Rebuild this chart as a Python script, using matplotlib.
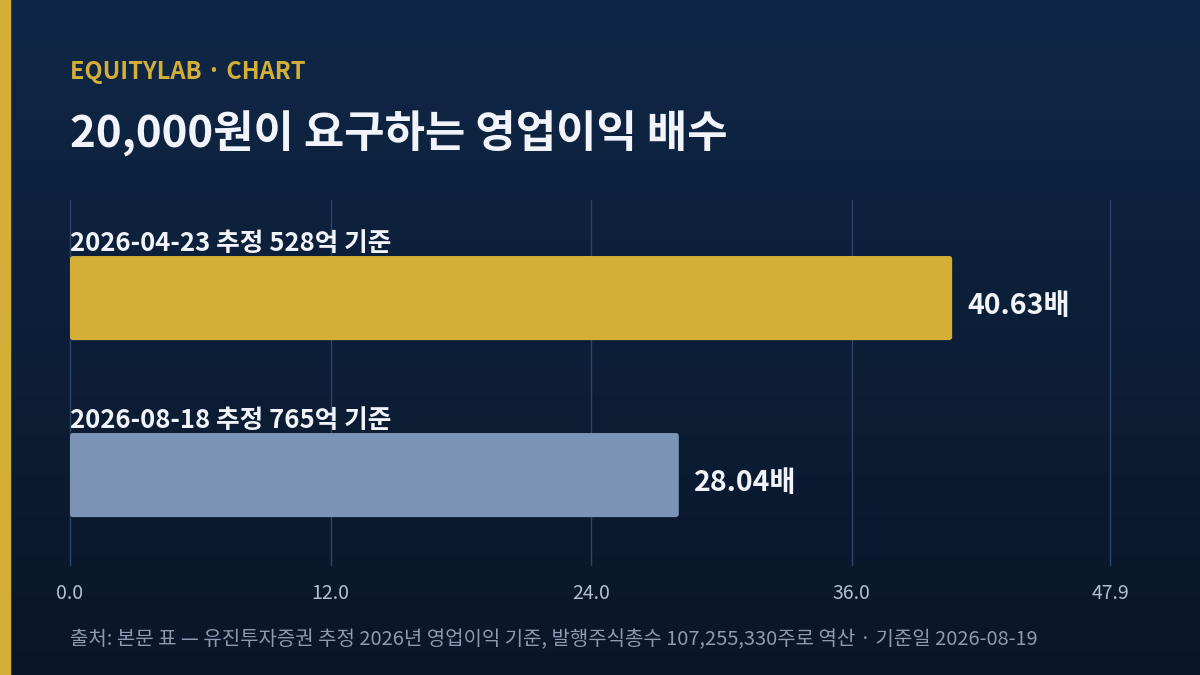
import numpy as np
import matplotlib.pyplot as plt
from matplotlib.colors import LinearSegmentedColormap
from matplotlib.patches import FancyBboxPatch

plt.rcParams['font.family'] = ['Noto Sans CJK KR', 'DejaVu Sans']

# data
labels = ["2026-04-23 추정 528억 기준", "2026-08-18 추정 765억 기준"]
values = [40.63, 28.04]
bar_colors = ["#D4AF37", "#7B93B5"]
ticks = [0.0, 12.0, 24.0, 36.0, 47.9]
x_max = 47.9

fig = plt.figure(figsize=(12, 6.75), dpi=100)

# background gradient
bg = fig.add_axes([0, 0, 1, 1])
cmap = LinearSegmentedColormap.from_list("bg", ["#0F2747", "#0A1628"])
bg.imshow(np.linspace(0, 1, 256).reshape(-1, 1), aspect="auto", cmap=cmap,
          extent=[0, 1, 0, 1])
bg.axvspan(0, 10 / 1200, color="#D4AF37")
bg.set_xlim(0, 1)
bg.set_ylim(0, 1)
bg.axis("off")

W, H = 1200, 675
ax = fig.add_axes([70 / W, (H - 565) / H, (1110 - 70) / W, 365 / H])
ax.set_facecolor("none")

ypos = np.arange(len(values))
bar_h = 0.475
bars = ax.barh(ypos, values, height=bar_h, color=bar_colors, zorder=3)
ax.set_xlim(0, x_max)
ax.set_ylim(1.508, -0.554)

# swap plain bars for slightly rounded ones
x_px = 1040 / x_max
y_px = 365 / 2.062
for b in bars:
    b.set_visible(False)
    ax.add_patch(FancyBboxPatch((b.get_x(), b.get_y()), b.get_width(), b.get_height(),
                                boxstyle=f"round,pad=0,rounding_size={3 / x_px}",
                                mutation_aspect=x_px / y_px,
                                facecolor=b.get_facecolor(), edgecolor="none", zorder=3))

for x in ticks:
    ax.axvline(x, color="#2B4468", linewidth=1, zorder=1, clip_on=False)

for i, (lab, v) in enumerate(zip(labels, values)):
    ax.text(0, i - bar_h / 2 + 0.008, lab, ha="left", va="bottom", fontsize=18.5,
            fontweight="bold", color="#F1F4FA", zorder=4)
    ax.text(v + 0.7, i + 0.045, f"{v:.2f}배", ha="left", va="center", fontsize=20.5,
            fontweight="bold", color="#F1F4FA", zorder=4)

ax.set_xticks(ticks)
ax.set_xticklabels([f"{t:.1f}" for t in ticks])
ax.tick_params(axis="x", length=0, pad=13, labelsize=14, labelcolor="#B3BFD3")
ax.set_yticks([])
for s in ax.spines.values():
    s.set_visible(False)

fig.text(70 / W, 1 - 72 / H, "EQUITYLAB · CHART", fontsize=17, fontweight="bold",
         color="#D4AF37", va="center", ha="left")
fig.text(70 / W, 1 - 134 / H, "20,000원이 요구하는 영업이익 배수", fontsize=31.6,
         fontweight="bold", color="#F1F4FA", va="center", ha="left")
fig.text(70 / W, 1 - 640 / H,
         "출처: 본문 표 — 유진투자증권 추정 2026년 영업이익 기준, 발행주식총수 107,255,330주로 역산 · 기준일 2026-08-19",
         fontsize=14.4, color="#8C9BB3", va="center", ha="left")

fig.savefig("out.png", dpi=100)
